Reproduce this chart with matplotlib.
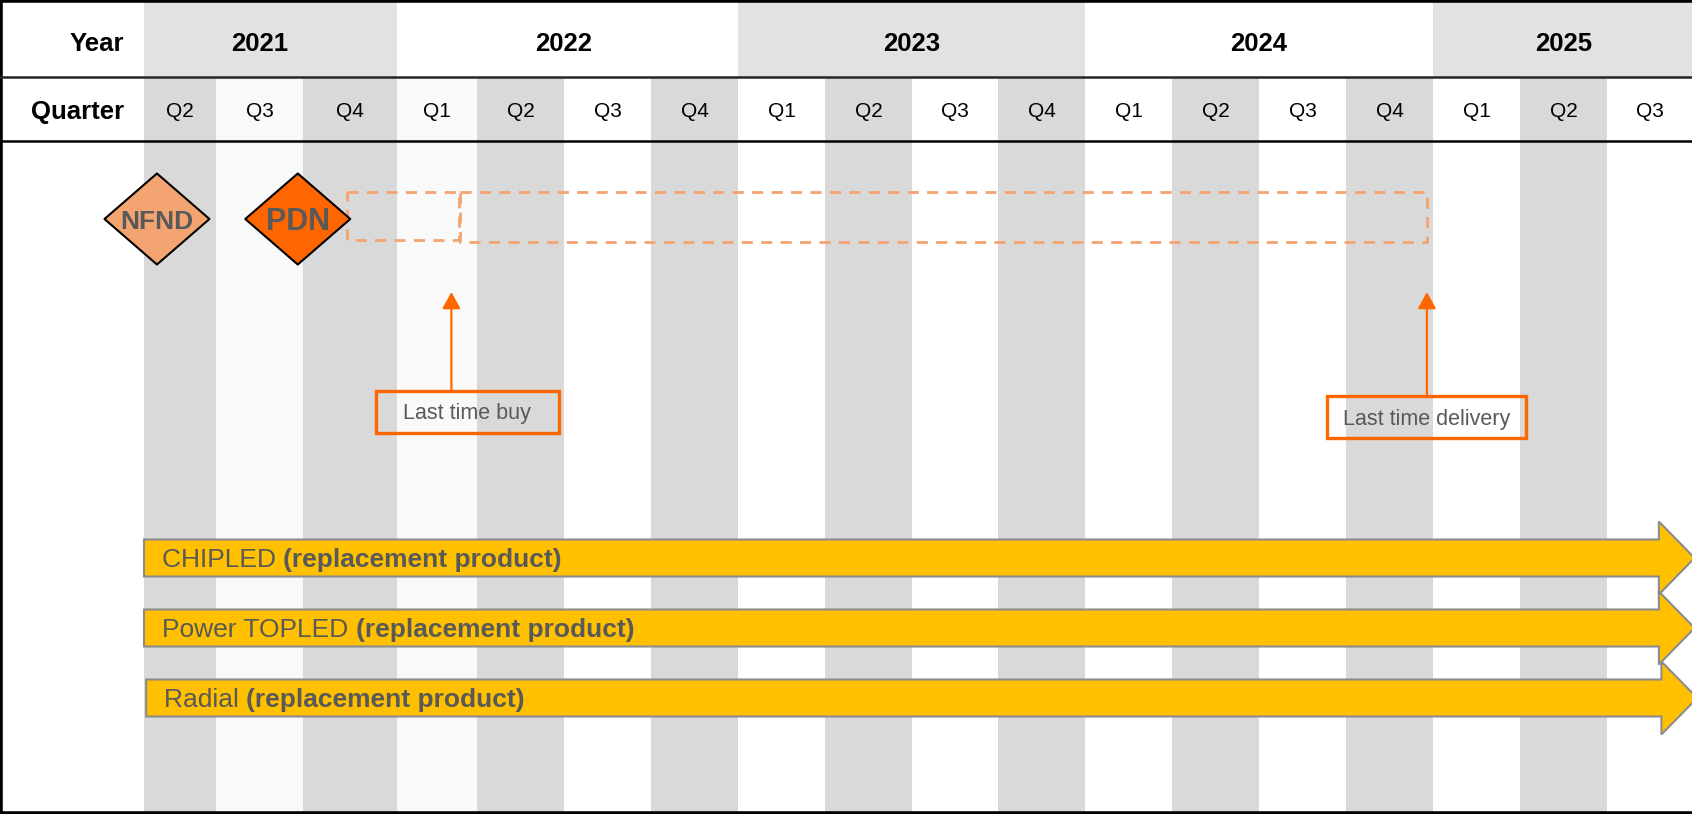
import matplotlib.pyplot as plt
from matplotlib.patches import Polygon, Rectangle
from matplotlib.path import Path
import numpy as np

plt.rcParams['font.family'] = ['Liberation Sans', 'DejaVu Sans']

# ---- data ----
years = ['2021', '2022', '2023', '2024', '2025']
quarters_per_year = [3, 4, 4, 4, 3]
quarter_labels = ['Q2', 'Q3', 'Q4',
                  'Q1', 'Q2', 'Q3', 'Q4',
                  'Q1', 'Q2', 'Q3', 'Q4',
                  'Q1', 'Q2', 'Q3', 'Q4',
                  'Q1', 'Q2', 'Q3']

# positions are in quarters, counted from the start of Q2 2021
milestone_names = ['NFND', 'PDN']
milestone_pos = [0.18, 1.94]

windows = [(2.47, 3.78), (3.79, 14.93)]   # PDN -> LTB, LTB -> LTD
event_names = ['Last time buy', 'Last time delivery']
event_pos = [3.68, 14.93]
event_label_pos = [3.88, 14.93]

products = ['CHIPLED', 'Power TOPLED', 'Radial']
product_start = [0.0, 0.0, 0.03]
product_tip = [18.03, 18.03, 18.06]

# ---- layout (pixels) ----
col_px = [0, 144, 216, 303, 397, 477, 564, 651, 738, 825, 912, 998,
          1085, 1172, 1259, 1346, 1433, 1520, 1607, 1692, 1779]
col_q = np.arange(-1, len(col_px) - 1)

def fwd(q):
    return np.interp(q, col_q, col_px)

def inv(p):
    return np.interp(p, col_px, col_q)

year_row = (0, 76.7)
quarter_row = (76.7, 141.3)
H = 814

gray = '#d9d9d9'
txt_gray = '#595959'
orange = '#ff6600'
light_orange = '#f4a470'

fig = plt.figure(figsize=(16.92, 8.14), dpi=100)
ax = fig.add_axes([0, 0, 1, 1])
ax.set_xscale('function', functions=(fwd, inv))
ax.set_xlim(-1, 18)
ax.set_ylim(H, 0)
ax.set_xticks([])
ax.set_yticks([])
ax.spines['right'].set_visible(False)
for s in ['left', 'top', 'bottom']:
    ax.spines[s].set_linewidth(4)
    ax.spines[s].set_color('black')

n_q = len(quarter_labels)
xq = np.arange(n_q)

# quarter stripes (quarter row + body)
stripe_colors = [gray if i % 2 == 0 else ('#f9f9f9' if i < 4 else 'white') for i in xq]
ax.bar(xq, H - quarter_row[0], width=1, bottom=quarter_row[0], align='edge',
       color=stripe_colors, linewidth=0, zorder=0)

# year cells
year_start = np.concatenate([[0], np.cumsum(quarters_per_year)[:-1]])
year_colors = ['#e1e2e4' if i % 2 == 0 else 'white' for i in range(len(years))]
ax.bar(year_start, year_row[1] - year_row[0], width=quarters_per_year, bottom=year_row[0],
       align='edge', color=year_colors, linewidth=0, zorder=0)

ax.axhline(year_row[1], color='#262626', lw=1.8, zorder=3)
ax.axhline(quarter_row[1], color='black', lw=1.8, zorder=3)

ax.text(-0.14, 44, 'Year', ha='right', va='center', fontsize=18.5, fontweight='bold')
ax.text(-0.14, 111.5, 'Quarter', ha='right', va='center', fontsize=18.5, fontweight='bold')
for y, s, n in zip(years, year_start, quarters_per_year):
    ax.text(s + n / 2, 44, y, ha='center', va='center', fontsize=18.5, fontweight='bold')
for i, q in enumerate(quarter_labels):
    ax.text(i + 0.5, 111.5, q, ha='center', va='center', fontsize=15)

# milestones
diamond = Path([(-1, 0), (0, 0.867), (1, 0), (0, -0.867), (-1, 0)],
               [Path.MOVETO, Path.LINETO, Path.LINETO, Path.LINETO, Path.CLOSEPOLY])
ax.scatter(milestone_pos, [219, 219], s=75.6 ** 2, marker=diamond,
           c=[light_orange, orange], edgecolors='black', linewidths=1.5, zorder=4)
for name, pos, fs in zip(milestone_names, milestone_pos, [19, 22]):
    ax.text(pos, 222, name, ha='center', va='center', fontsize=fs,
            fontweight='bold', color=txt_gray, zorder=5)

# dashed windows
for (a, b), (y0, y1) in zip(windows, [(192, 240), (192, 242)]):
    ax.add_patch(Rectangle((a, y0), b - a, y1 - y0, fill=False, ec=light_orange,
                           lw=2, ls=(0, (4, 3)), zorder=3))

# last time buy / delivery
box_w = [183, 199]
box_y = [(391, 433), (396, 438)]
for name, pos, lpos, bw, (y0, y1) in zip(event_names, event_pos, event_label_pos, box_w, box_y):
    ax.annotate('', xy=(pos, 292), xytext=(pos, y0 - 1),
                arrowprops=dict(arrowstyle='-|>,head_width=0.55,head_length=1.0',
                                color=orange, lw=1.6, shrinkA=0, shrinkB=0), zorder=4)
    c = fwd(lpos)
    x0, x1 = inv(c - bw / 2), inv(c + bw / 2)
    ax.add_patch(Rectangle((x0, y0), x1 - x0, y1 - y0, fill=False, ec=orange, lw=2.4, zorder=4))
    ax.text(lpos, (y0 + y1) / 2 + 2, name, ha='center', va='center', fontsize=15.5,
            color=txt_gray, zorder=5)

# replacement product arrows
lane_y = [558, 628, 698]
shaft_h, head_h, head_len = 18.5, 36.5, 0.42
for name, x0, tip, yc in zip(products, product_start, product_tip, lane_y):
    xs = tip - head_len
    verts = [(x0, yc - shaft_h), (xs, yc - shaft_h), (xs, yc - head_h), (tip, yc),
             (xs, yc + head_h), (xs, yc + shaft_h), (x0, yc + shaft_h)]
    ax.add_patch(Polygon(verts, closed=True, fc='#ffc000', ec='#8c8c8c', lw=1.5, zorder=3))
    t1 = ax.text(x0 + 0.25, yc + 2, name + ' ', ha='left', va='center', fontsize=19,
                 color=txt_gray, zorder=5)
    ax.annotate('(replacement product)', xy=(1, 0.5), xycoords=t1, ha='left', va='center',
                fontsize=19, fontweight='bold', color=txt_gray, zorder=5)

fig.savefig('out.png', dpi=100)
